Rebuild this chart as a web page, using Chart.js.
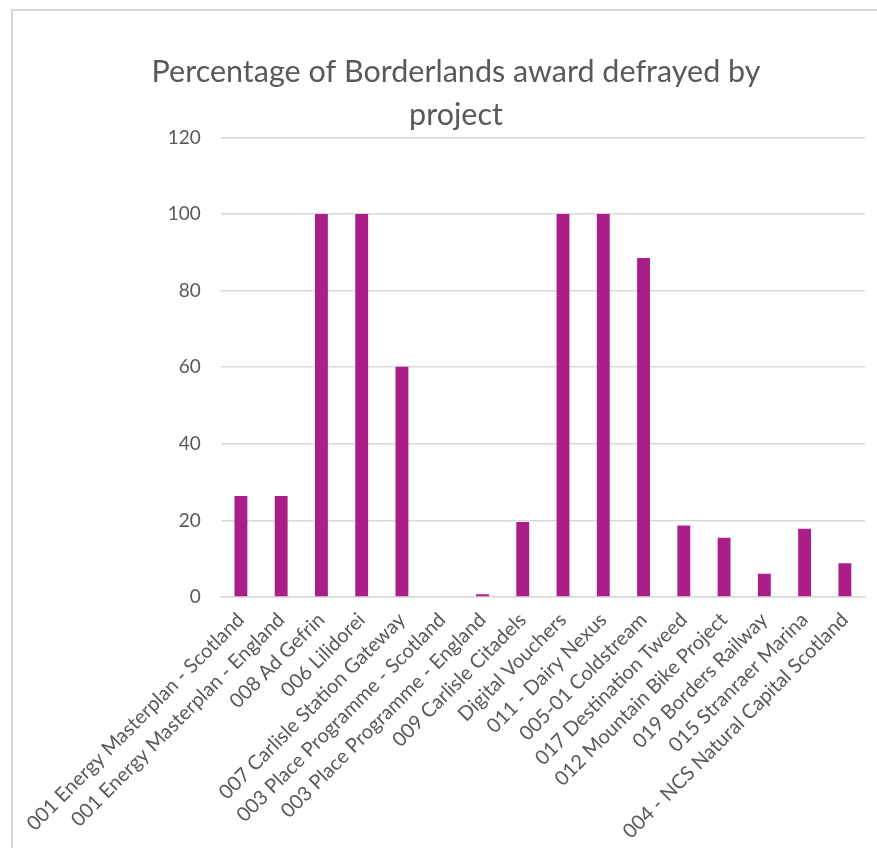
<!DOCTYPE html>
<html>
<head>
<meta charset="utf-8">
<script src="https://cdn.jsdelivr.net/npm/chart.js@4"></script>
<style>
  html, body { margin: 0; padding: 0; background: #fff; overflow: hidden; }
  #box { position: absolute; left: 11px; top: 9px; border-left: 2px solid #d9d9d9; border-top: 2px solid #d9d9d9; }
  canvas { display: block; }
</style>
</head>
<body>
<div id="box"><canvas id="barChart" width="886" height="837"></canvas></div>
<script>
var projects = [
    '001 Energy Masterplan - Scotland',
    '001 Energy Masterplan - England',
    '008 Ad Gefrin',
    '006 Lilidorei',
    '007 Carlisle Station Gateway',
    '003 Place Programme - Scotland',
    '003 Place Programme - England',
    '009 Carlisle Citadels',
    'Digital Vouchers',
    '011 - Dairy Nexus',
    '005-01 Coldstream',
    '017 Destination Tweed',
    '012 Mountain Bike Project',
    '019 Borders Railway',
    '015 Stranraer Marina',
    '004 - NCS Natural Capital Scotland'
];
var defrayed = [26.4, 26.4, 100, 100, 60.1, 0, 0.7, 19.6, 100, 100, 88.5, 18.7, 15.5, 6.1, 17.8, 8.8];
var yTicks = [0, 20, 40, 60, 80, 100, 120];

var grey = '#595959';
var ctx = document.getElementById('barChart').getContext('2d');
var chart = new Chart(ctx, {
    type: 'bar',
    data: {
        labels: projects,
        datasets: [{
            data: defrayed,
            backgroundColor: '#AB1E88',
            barPercentage: 0.32,
            categoryPercentage: 1
        }]
    },
    options: {
        responsive: false,
        animation: false,
        layout: { padding: 0 },
        plugins: {
            legend: { display: false },
            tooltip: { enabled: false },
            title: {
                display: true,
                text: ['Percentage of Borderlands award defrayed by', 'project'],
                color: grey,
                font: { family: 'Lato', size: 30.5, weight: 'normal', lineHeight: 1.4 },
                padding: { top: 40, bottom: 1 }
            }
        },
        scales: {
            x: {
                grid: { display: false, drawTicks: false },
                border: { color: '#d9d9d9', width: 1.5 },
                ticks: {
                    autoSkip: false,
                    maxRotation: 45,
                    minRotation: 45,
                    color: grey,
                    padding: 11,
                    font: { family: 'Lato', size: 20 }
                },
                afterFit: function (scale) { scale.height = 251; }
            },
            y: {
                min: 0,
                max: 120,
                afterBuildTicks: function (scale) {
                    scale.ticks = yTicks.map(function (v) { return { value: v }; });
                },
                grid: { color: '#d9d9d9', lineWidth: 1.5, drawTicks: false },
                border: { display: false },
                ticks: {
                    color: grey,
                    padding: 20,
                    font: { family: 'Lato', size: 19 }
                },
                afterFit: function (scale) { scale.width = 202; }
            },
            // empty right-hand margin so the title stays centred on the whole box
            yRight: {
                position: 'right',
                min: 0,
                max: 120,
                grid: { display: false, drawTicks: false },
                border: { display: false },
                ticks: { display: false },
                afterFit: function (scale) { scale.width = 34; }
            }
        }
    }
});
</script>
</body>
</html>
